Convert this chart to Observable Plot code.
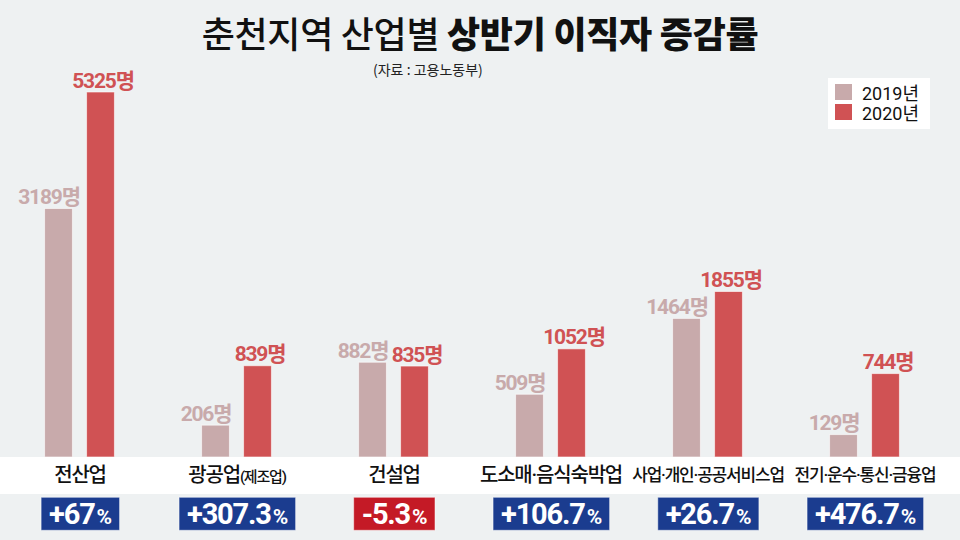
<!DOCTYPE html>
<html>
<head>
<meta charset="utf-8">
<script src="https://cdn.jsdelivr.net/npm/d3@7"></script>
<script src="https://cdn.jsdelivr.net/npm/@observablehq/plot@0.6"></script>
<style>
  html, body { margin: 0; padding: 0; background: #eef1f2; }
  #wrap { position: relative; width: 960px; height: 540px; overflow: hidden; background: #eef1f2;
          font-family: "Noto Sans CJK KR", sans-serif; }
  #band { position: absolute; left: 0; top: 457px; width: 960px; height: 37px; background: #ffffff; }
  #title { position: absolute; left: 0; top: 11px; width: 960px; text-align: center; font-size: 36px;
           line-height: 42px; color: #111; letter-spacing: -0.3px; }
  #title .a { font-weight: 500; }
  #title .b { font-weight: 800; }
  #sub { position: absolute; left: 373px; top: 59px; font-size: 14px; line-height: 20px; color: #222; }
  #legend { position: absolute; left: 828px; top: 78px; width: 102px; height: 51px; background: #fff; }
  #legend .row { position: absolute; left: 7px; height: 18px; display: flex; align-items: center;
                 font-family: Roboto, "Noto Sans CJK KR", sans-serif; font-size: 18px; color: #111; }
  #legend .sw { width: 17px; height: 16px; margin-right: 10px; }
  #chart { position: absolute; left: 0; top: 0; }
</style>
</head>
<body>
<div id="wrap">
  <div id="band"></div>
  <div id="title"><span class="a">춘천지역 산업별</span> <span class="b">상반기 이직자 증감률</span></div>
  <div id="sub">(자료 : 고용노동부)</div>
  <div id="legend"></div>
  <div id="chart"></div>
</div>
<script>
const categories = ["전산업", "광공업(제조업)", "건설업", "도소매·음식숙박업", "사업·개인·공공서비스업", "전기·운수·통신·금융업"];
const values2019 = [3189, 206, 882, 509, 1464, 129];
const values2020 = [5325, 839, 835, 1052, 1855, 744];
const changeLabels = ["+67%", "+307.3%", "-5.3%", "+106.7%", "+26.7%", "+476.7%"];
const years = ["2019년", "2020년"];
const yearColors = ["#c8aaab", "#d05254"];

const rows2019 = categories.map((c, i) => ({category: c, value: values2019[i]}));
const rows2020 = categories.map((c, i) => ({category: c, value: values2020[i]}));
const changes = categories.map((c, i) => ({category: c, label: changeLabels[i]}));

const numFont = "Roboto, 'Noto Sans CJK KR', sans-serif";
const W = 960, mL = 0, mR = 17;
const half = (W - mL - mR) / categories.length / 2;

const plot = Plot.plot({
  width: 960,
  height: 540,
  marginTop: 92,
  marginBottom: 83,
  marginLeft: mL,
  marginRight: mR,
  style: {background: "transparent"},
  x: {type: "band", domain: categories, padding: 0, axis: null},
  y: {type: "pow", exponent: 0.75, domain: [0, 5325], axis: null},
  marks: [
    Plot.barY(rows2019, {x: "category", y: "value", fill: yearColors[0], stroke: "#ffffff", strokeOpacity: 0.6, strokeWidth: 1,
      insetLeft: half - 35, insetRight: half + 7}),
    Plot.barY(rows2020, {x: "category", y: "value", fill: yearColors[1], stroke: "#ffffff", strokeOpacity: 0.6, strokeWidth: 1,
      insetLeft: half + 7, insetRight: half - 35}),
    Plot.text(rows2019, {x: "category", y: "value", text: d => `${d.value}명`, dx: -31, dy: -5, lineAnchor: "bottom",
      fill: yearColors[0], fontSize: 21, fontWeight: 700, fontFamily: numFont}),
    Plot.text(rows2020, {x: "category", y: "value", text: d => `${d.value}명`, dx: 23, dy: -5, lineAnchor: "bottom",
      fill: yearColors[1], fontSize: 21, fontWeight: 700, fontFamily: numFont}),
    Plot.text(categories, {x: d => d, text: d => d, frameAnchor: "bottom", dy: 18, lineAnchor: "middle",
      fontSize: d => d.length > 9 ? 17 : 20, fontWeight: 500, fill: "#111", fontFamily: numFont}),
    Plot.text(changes, {x: "category", text: "label", frameAnchor: "bottom", dy: 57, lineAnchor: "middle",
      fontSize: 29, fontWeight: 700, fill: "#ffffff", fontFamily: numFont})
  ]
});
document.getElementById("chart").appendChild(plot);

const textGroups = d3.select(plot).selectAll('g[aria-label="text"]').nodes();
const [g2019, g2020, gCat, gChange] = textGroups;
d3.select(g2019).attr("letter-spacing", -1.2);
d3.select(g2020).attr("letter-spacing", -1.2);
d3.select(gCat).attr("letter-spacing", -1.2);
d3.select(gChange).attr("letter-spacing", -1.2);

// category label: smaller parenthetical
d3.select(gCat).selectAll("text").each(function() {
  const t = this.textContent;
  const k = t.indexOf("(");
  if (k > 0) {
    const el = d3.select(this);
    el.text(null);
    el.append("tspan").text(t.slice(0, k));
    el.append("tspan").attr("font-size", 15).text(t.slice(k));
  }
});

// change labels: smaller % and coloured box behind
d3.select(gChange).selectAll("text").each(function() {
  const node = this;
  const t = node.textContent;
  const neg = t.startsWith("-");
  const el = d3.select(node);
  el.text(null);
  el.append("tspan").text(t.replace("%", ""));
  el.append("tspan").attr("font-size", 21).attr("dx", 2).text("%");
  const bb = node.getBBox();
  const cy = bb.y + bb.height / 2;
  const rect = document.createElementNS("http://www.w3.org/2000/svg", "rect");
  node.parentNode.insertBefore(rect, node);
  const r = d3.select(rect)
    .attr("x", bb.x - 8).attr("width", bb.width + 16)
    .attr("y", cy - 16.5).attr("height", 33)
    .attr("fill", neg ? "#c41a26" : "#1b3c8f")
    .attr("stroke", "#ffffff").attr("stroke-opacity", 0.5).attr("stroke-width", 1);
  const tr = node.getAttribute("transform");
  if (tr) r.attr("transform", tr);
});

// legend
const legend = d3.select("#legend");
years.forEach((y, i) => {
  const row = legend.append("div").attr("class", "row").style("top", (5 + i * 20) + "px");
  row.append("div").attr("class", "sw").style("background", yearColors[i]);
  row.append("span").text(y);
});
</script>
</body>
</html>
